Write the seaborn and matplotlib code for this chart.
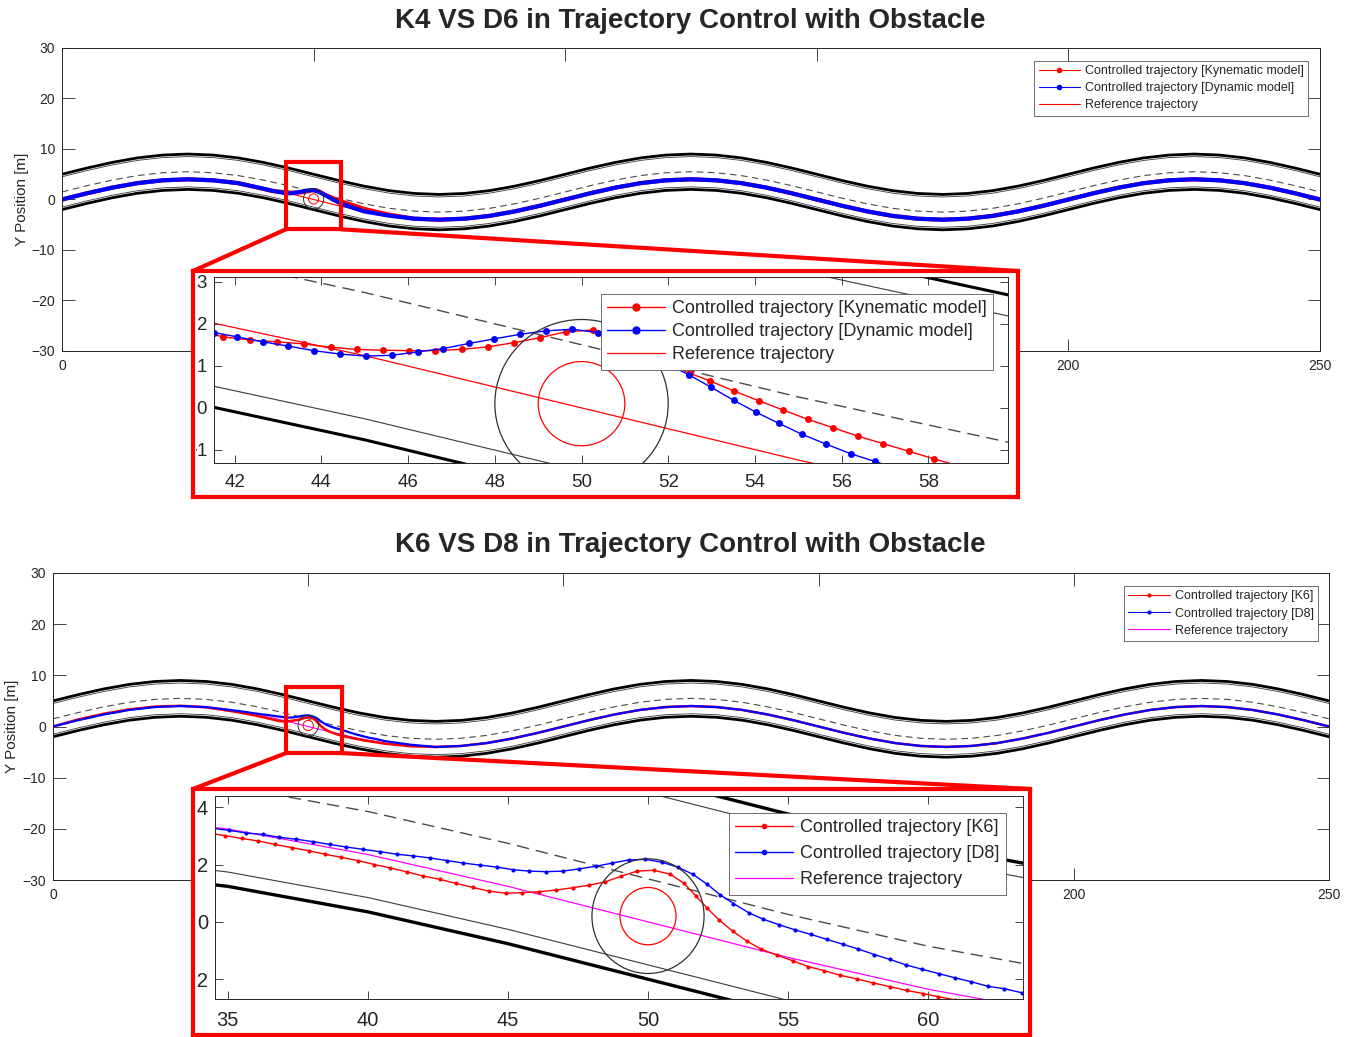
import numpy as np
import pandas as pd
import seaborn as sns
import matplotlib.pyplot as plt
from matplotlib.lines import Line2D
from matplotlib.patches import Circle, Rectangle, ConnectionPatch
from matplotlib.transforms import Bbox

# centre line of the right lane (reference trajectory), read every 5 m
ref_x = list(range(0, 255, 5))
ref_y = [0.00, 1.24, 2.35, 3.24, 3.80, 4.00, 3.80, 3.24, 2.35, 1.24,
         0.00, -1.24, -2.35, -3.24, -3.80, -4.00, -3.80, -3.24, -2.35, -1.24,
         0.00, 1.24, 2.35, 3.24, 3.80, 4.00, 3.80, 3.24, 2.35, 1.24,
         0.00, -1.24, -2.35, -3.24, -3.80, -4.00, -3.80, -3.24, -2.35, -1.24,
         0.00, 1.24, 2.35, 3.24, 3.80, 4.00, 3.80, 3.24, 2.35, 1.24,
         0.00]

# road lines as offsets from the reference line
edge_thick = [-2.0, 5.0]
edge_thin = [-1.5, 4.5]
centre_dash = 1.5

# obstacle (centre, radii of inner red and outer black circle)
obstacle_1 = (50.0, 0.10)
obstacle_2 = (50.0, 0.20)
obstacle_r = [1.0, 2.0]

# K4 (kinematic) and D6 (dynamic) around the obstacle
k4_x = [40.0, 41.73, 42.36, 42.98, 43.59, 44.21, 44.81, 45.41, 46.02, 46.63,
        47.24, 47.84, 48.45, 49.05, 49.65, 50.26, 50.86, 51.46, 52.0, 52.5,
        52.97, 53.52, 54.09, 54.65, 55.22, 55.80, 56.37, 56.96, 57.55, 58.13,
        58.7, 60.0, 65.0]
k4_y = [2.10, 1.69, 1.61, 1.57, 1.52, 1.44, 1.39, 1.37, 1.36, 1.36,
        1.39, 1.45, 1.55, 1.67, 1.81, 1.85, 1.70, 1.40, 1.05, 0.82,
        0.64, 0.40, 0.17, -0.05, -0.27, -0.47, -0.67, -0.85, -1.03, -1.21,
        -1.38, -1.85, -3.00]
d6_x = [40.0, 41.53, 42.04, 42.64, 43.22, 43.82, 44.42, 45.02, 45.62, 46.22,
        46.81, 47.40, 47.99, 48.59, 49.19, 49.78, 50.37, 50.96, 51.55, 52.0,
        52.47, 52.99, 53.51, 54.02, 54.56, 55.09, 55.64, 56.21, 56.76, 57.3,
        58.0, 60.0, 65.0]
d6_y = [2.15, 1.79, 1.69, 1.57, 1.47, 1.36, 1.28, 1.23, 1.25, 1.33,
        1.41, 1.53, 1.64, 1.75, 1.83, 1.87, 1.79, 1.55, 1.25, 1.03,
        0.79, 0.49, 0.18, -0.10, -0.37, -0.63, -0.86, -1.09, -1.27, -1.45,
        -1.70, -2.35, -3.20]

# K6 and D8 around the obstacle
k6_x = [5, 10, 15, 20, 25, 30,
        34.9, 35.5, 36.1, 36.69, 37.29, 37.89, 38.48, 39.05, 39.64, 40.24,
        40.81, 41.41, 41.98, 42.58, 43.16, 43.76, 44.33, 44.93, 45.52, 46.12,
        46.72, 47.31, 47.91, 48.48, 49.04, 49.61, 50.2, 50.8, 51.29, 51.72,
        52.12, 52.54, 53.03, 53.53, 54.03, 54.6, 55.17, 55.72, 56.28, 56.85,
        57.45, 58.04, 58.63, 59.23, 59.82, 60.36, 60.95,
        65, 70]
k6_y = [1.40, 2.50, 3.35, 3.90, 4.05, 3.75,
        3.01, 2.91, 2.82, 2.70, 2.59, 2.48, 2.36, 2.25, 2.14, 2.00,
        1.88, 1.74, 1.60, 1.48, 1.34, 1.20, 1.07, 1.00, 1.02, 1.05,
        1.11, 1.19, 1.28, 1.40, 1.59, 1.77, 1.80, 1.66, 1.34, 0.89,
        0.47, 0.06, -0.33, -0.67, -0.95, -1.16, -1.36, -1.56, -1.70, -1.86,
        -1.99, -2.13, -2.26, -2.39, -2.50, -2.61, -2.72,
        -3.35, -3.85]
d8_x = [35.06, 35.66, 36.25, 36.85, 37.45, 38.04, 38.64, 39.24, 39.83, 40.43,
        41.03, 41.62, 42.22, 42.82, 43.41, 44.01, 44.61, 45.17, 45.76, 46.36,
        46.96, 47.55, 48.15, 48.72, 49.31, 49.9, 50.5, 51.06, 51.6, 52.1,
        52.58, 53.05, 53.59, 54.12, 54.68, 55.25, 55.82, 56.38, 56.95, 57.51,
        58.08, 58.63, 59.2, 59.77, 60.39, 60.95, 61.54, 62.14, 62.71, 63.33,
        65, 70]
d8_y = [3.19, 3.10, 3.05, 2.95, 2.88, 2.80, 2.70, 2.61, 2.53, 2.45,
        2.36, 2.30, 2.23, 2.14, 2.05, 1.98, 1.91, 1.82, 1.77, 1.75,
        1.77, 1.85, 1.94, 2.05, 2.16, 2.18, 2.08, 1.91, 1.66, 1.32,
        0.94, 0.64, 0.32, 0.09, -0.10, -0.28, -0.44, -0.61, -0.78, -0.95,
        -1.14, -1.31, -1.50, -1.65, -1.81, -1.95, -2.09, -2.25, -2.33, -2.47,
        -2.85, -3.55]

labels_1 = ['Controlled trajectory [Kynematic model]',
            'Controlled trajectory [Dynamic model]',
            'Reference trajectory']
labels_2 = ['Controlled trajectory [K6]',
            'Controlled trajectory [D8]',
            'Reference trajectory']

# overview x ticks; 50-150 sit under the pasted zoom, so their labels are not seen
main_xticks = [0, 50, 100, 150, 200, 250]
main_xticklabels = ['0', '', '', '', '200', '250']

# highlighted areas on the overview plots (x0, x1, y0, y1)
zoom_box_1 = (44.5, 55.4, -5.9, 7.5)
zoom_box_2 = (45.65, 56.6, -5.2, 7.7)


def splice(xs, ys, keep_before, keep_after):
    pre = [(x, y) for x, y in zip(ref_x, ref_y) if x <= keep_before]
    post = [(x, y) for x, y in zip(ref_x, ref_y) if x >= keep_after]
    return pd.DataFrame(pre + list(zip(xs, ys)) + post, columns=['x', 'y'])


ref_df = pd.DataFrame({'x': ref_x, 'y': ref_y})
k4 = splice(k4_x, k4_y, 35, 70)
d6 = splice(d6_x, d6_y, 35, 70)
k6 = splice(k6_x, k6_y, 0, 75)
d8 = splice(d8_x, d8_y, 30, 75)

sns.set_style('ticks')
plt.rcParams['font.family'] = ['Liberation Sans', 'DejaVu Sans']
GREY = '#262626'

W, H = 1357, 1037
fig = plt.figure(figsize=(W / 100, H / 100), dpi=100)


def px_axes(x0, y0, x1, y1, z):
    return fig.add_axes([x0 / W, 1 - y1 / H, (x1 - x0) / W, (y1 - y0) / H], zorder=z)


def line(ax, df, **kw):
    sns.lineplot(data=df, x='x', y='y', ax=ax, sort=False, estimator=None, **kw)


def road(ax, lw_thick, lw_thin, lw_dash, dash):
    for off in edge_thick:
        line(ax, ref_df.assign(y=ref_df.y + off), color='black', linewidth=lw_thick)
    for off in edge_thin:
        line(ax, ref_df.assign(y=ref_df.y + off), color='#3a3a3a', linewidth=lw_thin)
    line(ax, ref_df.assign(y=ref_df.y + centre_dash), color='#4a4a4a',
         linewidth=lw_dash, linestyle=(0, dash))


def obstacle(ax, centre, lw):
    ax.add_patch(Circle(centre, obstacle_r[1], fill=False, ec='#303030', lw=lw, zorder=4))
    ax.add_patch(Circle(centre, obstacle_r[0], fill=False, ec='red', lw=lw, zorder=4))


def matlab_style(ax, size, tick_len, pad_x, pad_y):
    ax.tick_params(direction='in', top=True, right=True, length=tick_len, width=0.6,
                   colors=GREY, labelsize=size)
    ax.tick_params(axis='x', pad=pad_x)
    ax.tick_params(axis='y', pad=pad_y)
    for s in ax.spines.values():
        s.set_color(GREY)
        s.set_linewidth(0.7)
    ax.set_xlabel('')
    ax.set_ylabel('')


def add_legend(ax, handles, labels, anchor, size, hl, spacing):
    leg = ax.legend(handles, labels, loc='upper right', bbox_to_anchor=anchor,
                    borderaxespad=0, fontsize=size, handlelength=hl, handletextpad=0.4,
                    labelspacing=spacing, borderpad=0.35, fancybox=False, framealpha=1,
                    edgecolor='#555555')
    leg.get_frame().set_linewidth(0.6)
    leg.set_zorder(10)


def overview(ax, traj_a, traj_b, ref_color, lw_a, lw_b, centre, box, y_lab_x):
    road(ax, 2.0, 0.6, 0.8, (6, 4))
    line(ax, ref_df, color=ref_color, linewidth=0.8)
    line(ax, traj_a, color='red', linewidth=lw_a)
    line(ax, traj_b, color='blue', linewidth=lw_b)
    obstacle(ax, centre, 0.7)
    x0, x1, y0, y1 = box
    ax.add_patch(Rectangle((x0, y0), x1 - x0, y1 - y0, fill=False, ec='red', lw=3,
                           zorder=6, clip_on=False))
    ax.set_xlim(0, 250)
    ax.set_ylim(-30, 30)
    ax.set_xticks(main_xticks)
    ax.set_xticklabels(main_xticklabels)
    ax.set_yticks(range(-30, 31, 10))
    matlab_style(ax, 10, 9, 6, 5)
    ax.set_ylabel('Y Position [m]', fontsize=11, color=GREY)
    ax.yaxis.set_label_coords(y_lab_x, 0.5)


def zoomed(ax, traj_a, traj_b, ref_color, ms, centre, lw_thick):
    road(ax, lw_thick, 0.8, 1.0, (9, 5))
    line(ax, ref_df, color=ref_color, linewidth=0.9)
    for df, c in [(traj_a, 'red'), (traj_b, 'blue')]:
        line(ax, df, color=c, linewidth=1.0, marker='o', markersize=ms,
             markeredgecolor=c, markeredgewidth=0)
    obstacle(ax, centre, 0.9)


def frame_for(ax_main, box, x0, y0, x1, y1):
    fr = px_axes(x0, y0, x1, y1, 2)
    fr.set_xticks([])
    fr.set_yticks([])
    fr.set_facecolor('white')
    for s in fr.spines.values():
        s.set_color('red')
        s.set_linewidth(3)
    bx0, bx1, by0, by1 = box
    for xy, corner in [((bx0, by0), (0, 1)), ((bx1, by0), (1, 1))]:
        cp = ConnectionPatch(xyA=xy, coordsA=ax_main.transData, xyB=corner,
                             coordsB=fr.transAxes, color='red', lw=3, zorder=1.5)
        fig.add_artist(cp)
    return fr


def clip_labels(ax, x0, y0, x1, y1):
    # labels of the pasted zoom are cut off by its red frame
    box = Bbox.from_extents(x0 + 3, H - y1, x1, H - y0)
    for lab in ax.get_xticklabels() + ax.get_yticklabels():
        lab.set_clip_box(box)
        lab.set_clip_on(True)


# ---------- top: K4 vs D6 ----------
ax1 = px_axes(62, 48, 1320, 351, 1)
overview(ax1, k4, d6, 'red', 3.0, 3.0, obstacle_1, zoom_box_1, -0.026)
add_legend(ax1, [Line2D([], [], color='red', lw=0.8, marker='.', ms=6),
                 Line2D([], [], color='blue', lw=0.8, marker='.', ms=6),
                 Line2D([], [], color='red', lw=0.8)],
           labels_1, (0.9905, 0.957), 9, 3.3, 0.4)

fr1 = frame_for(ax1, zoom_box_1, 193, 271, 1018, 497)
in1 = px_axes(214, 277, 1008, 463, 3)
zoomed(in1, k4, d6, 'red', 5, obstacle_1, 2.2)
in1.set_xlim(41.52, 59.84)
in1.set_ylim(-1.31, 3.11)
in1.set_xticks(range(42, 59, 2))
in1.set_yticks(range(-1, 4))
matlab_style(in1, 13.5, 6, 8, 5)
add_legend(in1, [Line2D([], [], color='red', lw=1, marker='o', ms=5),
                 Line2D([], [], color='blue', lw=1, marker='o', ms=5),
                 Line2D([], [], color='red', lw=0.9)],
           labels_1, (0.981, 0.908), 13, 3.2, 0.33)
clip_labels(in1, 193, 271, 1018, 497)

# ---------- bottom: K6 vs D8 ----------
ax2 = px_axes(53, 573, 1329, 880, 1)
overview(ax2, k6, d8, 'magenta', 1.8, 1.6, obstacle_2, zoom_box_2, -0.0265)
add_legend(ax2, [Line2D([], [], color='red', lw=0.8, marker='.', ms=4),
                 Line2D([], [], color='blue', lw=0.8, marker='.', ms=4),
                 Line2D([], [], color='magenta', lw=0.8)],
           labels_2, (0.9914, 0.958), 9, 3.3, 0.42)

fr2 = frame_for(ax2, zoom_box_2, 193, 789, 1030, 1035)
in2 = px_axes(215, 796, 1023, 999, 3)
zoomed(in2, k6, d8, 'magenta', 3, obstacle_2, 2.4)
in2.set_xlim(34.55, 63.38)
in2.set_ylim(-2.69, 4.39)
in2.set_xticks(range(35, 61, 5))
in2.set_yticks(range(-2, 5, 2))
matlab_style(in2, 14.5, 6, 9, 5)
add_legend(in2, [Line2D([], [], color='red', lw=1, marker='o', ms=3),
                 Line2D([], [], color='blue', lw=1, marker='o', ms=3),
                 Line2D([], [], color='magenta', lw=0.9)],
           labels_2, (0.979, 0.916), 13, 3.2, 0.5)
clip_labels(in2, 193, 789, 1030, 1035)

fig.text(690 / W, 1 - 21 / H, 'K4 VS D6 in Trajectory Control with Obstacle',
         ha='center', va='center', fontsize=20, fontweight='bold')
fig.text(690 / W, 1 - 545 / H, 'K6 VS D8 in Trajectory Control with Obstacle',
         ha='center', va='center', fontsize=20, fontweight='bold')

fig.savefig('out.png', dpi=100, facecolor='white')
